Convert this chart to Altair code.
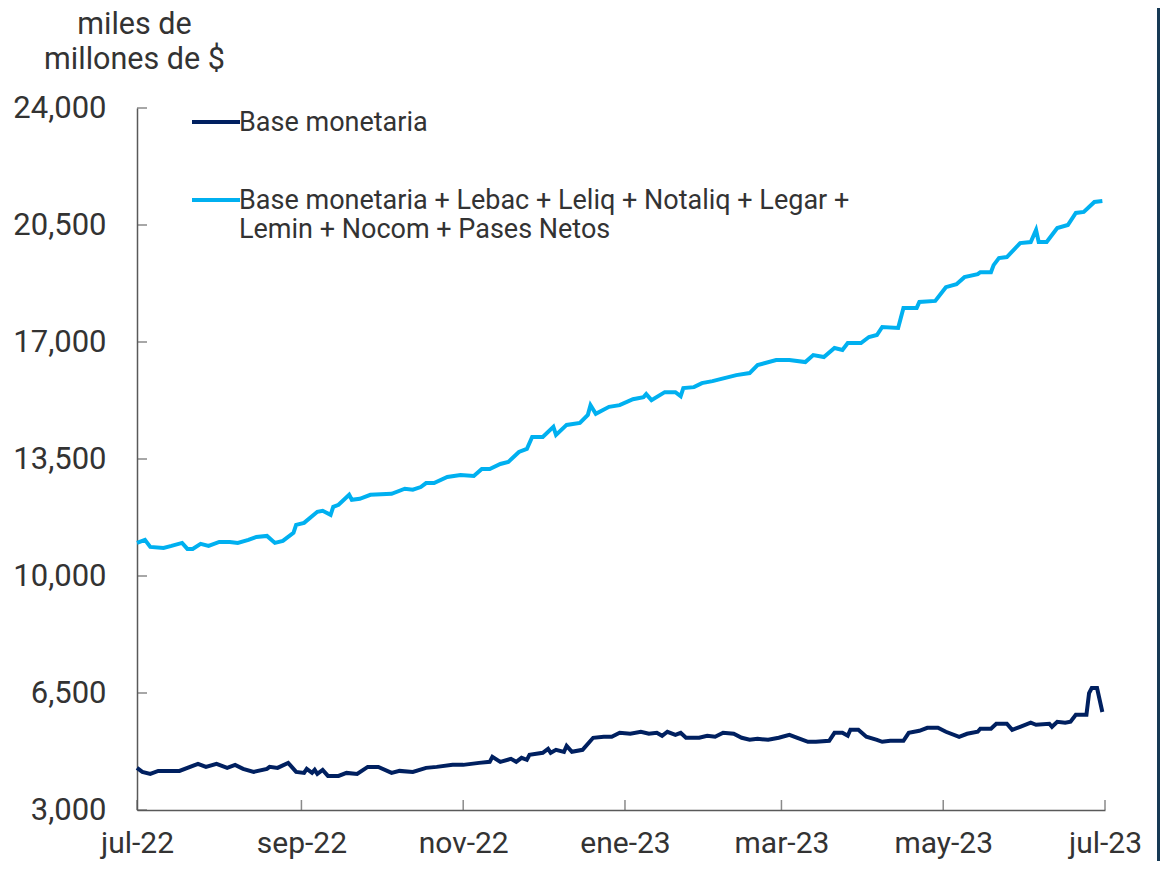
import altair as alt
import pandas as pd

# ---------------- data ----------------
amplio_dates = [
    "2022-07-01", "2022-07-04", "2022-07-06", "2022-07-11", "2022-07-14", "2022-07-18",
    "2022-07-20", "2022-07-22", "2022-07-25", "2022-07-28", "2022-08-01", "2022-08-05",
    "2022-08-08", "2022-08-12", "2022-08-15", "2022-08-19", "2022-08-22", "2022-08-25",
    "2022-08-29", "2022-08-30", "2022-09-02", "2022-09-07", "2022-09-09", "2022-09-12",
    "2022-09-13", "2022-09-15", "2022-09-19", "2022-09-20", "2022-09-23", "2022-09-27",
    "2022-10-05", "2022-10-10", "2022-10-13", "2022-10-16", "2022-10-18", "2022-10-21",
    "2022-10-26", "2022-10-31", "2022-11-05", "2022-11-08", "2022-11-11", "2022-11-15",
    "2022-11-18", "2022-11-22", "2022-11-25", "2022-11-27", "2022-12-01", "2022-12-05",
    "2022-12-06", "2022-12-10", "2022-12-15", "2022-12-18", "2022-12-19", "2022-12-21",
    "2022-12-26", "2022-12-30", "2023-01-04", "2023-01-08", "2023-01-09", "2023-01-11",
    "2023-01-16", "2023-01-20", "2023-01-22", "2023-01-23", "2023-01-27", "2023-01-30",
    "2023-02-03", "2023-02-06", "2023-02-12", "2023-02-17", "2023-02-20", "2023-02-27",
    "2023-03-04", "2023-03-10", "2023-03-13", "2023-03-17", "2023-03-21", "2023-03-24",
    "2023-03-26", "2023-03-31", "2023-04-03", "2023-04-06", "2023-04-08", "2023-04-14",
    "2023-04-16", "2023-04-21", "2023-04-22", "2023-04-28", "2023-05-02", "2023-05-06",
    "2023-05-09", "2023-05-14", "2023-05-15", "2023-05-19", "2023-05-20", "2023-05-22",
    "2023-05-25", "2023-05-30", "2023-06-03", "2023-06-05", "2023-06-06", "2023-06-09",
    "2023-06-13", "2023-06-17", "2023-06-20", "2023-06-23", "2023-06-27", "2023-06-30",
]
amplio_values = [
    10990, 11080, 10870, 10840, 10900, 10990,
    10810, 10810, 10960, 10900, 11020, 11020,
    10990, 11080, 11170, 11200, 10990, 11050,
    11290, 11530, 11590, 11920, 11950, 11830,
    12070, 12130, 12430, 12280, 12310, 12430,
    12460, 12610, 12580, 12660, 12780, 12780,
    12960, 13020, 12990, 13200, 13200, 13350,
    13410, 13710, 13800, 14160, 14160, 14460,
    14220, 14520, 14580, 14820, 15110, 14850,
    15060, 15110, 15290, 15350, 15440, 15260,
    15500, 15500, 15380, 15620, 15650, 15770,
    15830, 15890, 16010, 16070, 16310, 16460,
    16460, 16400, 16610, 16550, 16820, 16760,
    16970, 16970, 17150, 17210, 17450, 17420,
    18020, 18020, 18200, 18230, 18640, 18730,
    18940, 19030, 19090, 19090, 19300, 19510,
    19540, 19960, 19990, 20350, 19990, 19990,
    20410, 20500, 20860, 20890, 21190, 21220,
]

base_dates = [
    "2022-07-01", "2022-07-03", "2022-07-06", "2022-07-09", "2022-07-17", "2022-07-24",
    "2022-07-27", "2022-07-31", "2022-08-04", "2022-08-07", "2022-08-10", "2022-08-14",
    "2022-08-19", "2022-08-20", "2022-08-23", "2022-08-27", "2022-08-30", "2022-09-02",
    "2022-09-03", "2022-09-05", "2022-09-06", "2022-09-07", "2022-09-09", "2022-09-11",
    "2022-09-15", "2022-09-18", "2022-09-22", "2022-09-26", "2022-09-30", "2022-10-05",
    "2022-10-08", "2022-10-13", "2022-10-18", "2022-10-22", "2022-10-28", "2022-11-01",
    "2022-11-07", "2022-11-11", "2022-11-12", "2022-11-15", "2022-11-19", "2022-11-21",
    "2022-11-23", "2022-11-25", "2022-11-26", "2022-12-01", "2022-12-03", "2022-12-04",
    "2022-12-06", "2022-12-09", "2022-12-10", "2022-12-12", "2022-12-16", "2022-12-20",
    "2022-12-24", "2022-12-27", "2022-12-30", "2023-01-03", "2023-01-07", "2023-01-10",
    "2023-01-13", "2023-01-15", "2023-01-17", "2023-01-20", "2023-01-22", "2023-01-24",
    "2023-01-29", "2023-02-01", "2023-02-04", "2023-02-07", "2023-02-11", "2023-02-14",
    "2023-02-17", "2023-02-20", "2023-02-24", "2023-02-28", "2023-03-04", "2023-03-07",
    "2023-03-11", "2023-03-14", "2023-03-19", "2023-03-21", "2023-03-24", "2023-03-26",
    "2023-03-27", "2023-03-30", "2023-04-02", "2023-04-06", "2023-04-08", "2023-04-11",
    "2023-04-16", "2023-04-18", "2023-04-22", "2023-04-25", "2023-04-29", "2023-05-02",
    "2023-05-07", "2023-05-10", "2023-05-14", "2023-05-15", "2023-05-19", "2023-05-21",
    "2023-05-25", "2023-05-27", "2023-05-30", "2023-06-03", "2023-06-05", "2023-06-10",
    "2023-06-11", "2023-06-13", "2023-06-16", "2023-06-18", "2023-06-20", "2023-06-24",
    "2023-06-25", "2023-06-26", "2023-06-28", "2023-06-30",
]
base_values = [
    4260, 4140, 4080, 4170, 4170, 4380,
    4290, 4380, 4260, 4350, 4230, 4140,
    4230, 4290, 4260, 4410, 4140, 4110,
    4230, 4110, 4200, 4080, 4200, 4020,
    4020, 4110, 4080, 4290, 4290, 4110,
    4170, 4140, 4260, 4290, 4350, 4350,
    4410, 4440, 4590, 4440, 4530, 4440,
    4560, 4500, 4650, 4710, 4830, 4710,
    4800, 4740, 4920, 4740, 4800, 5160,
    5190, 5190, 5310, 5280, 5340, 5280,
    5310, 5220, 5340, 5250, 5310, 5160,
    5160, 5220, 5190, 5310, 5280, 5160,
    5100, 5130, 5100, 5160, 5250, 5160,
    5040, 5040, 5070, 5310, 5310, 5220,
    5400, 5400, 5190, 5100, 5040, 5070,
    5070, 5310, 5370, 5460, 5460, 5340,
    5190, 5280, 5340, 5430, 5430, 5580,
    5580, 5400, 5490, 5610, 5550, 5580,
    5490, 5640, 5610, 5640, 5850, 5850,
    6500, 6650, 6650, 5930,
]

series_names = [
    "Base monetaria",
    "Base monetaria + Lebac + Leliq + Notaliq + Legar + Lemin + Nocom + Pases Netos",
]
series_colors = ["#002060", "#00B0F0"]

y_ticks = [3000, 6500, 10000, 13500, 17000, 20500, 24000]
x_ticks = ["2022-07-01", "2022-09-01", "2022-11-01", "2023-01-01",
           "2023-03-01", "2023-05-01", "2023-07-01"]
month_names = ["ene", "feb", "mar", "abr", "may", "jun",
               "jul", "ago", "sep", "oct", "nov", "dic"]

# ---------------- tables ----------------
df = pd.concat([
    pd.DataFrame({"fecha": [d + "T00:00:00" for d in base_dates],
                  "valor": base_values, "serie": series_names[0]}),
    pd.DataFrame({"fecha": [d + "T00:00:00" for d in amplio_dates],
                  "valor": amplio_values, "serie": series_names[1]}),
])
yt = pd.DataFrame({"v": y_ticks})
xt = pd.DataFrame({"fecha": [d + "T00:00:00" for d in x_ticks]})

FONT = "Roboto"
TXT = "#333333"
AX = "#595959"
W, H = 968, 702

months_js = "[" + ",".join("'%s'" % m for m in month_names) + "]"
x_label_expr = months_js + "[month(datum.value)] + '-' + timeFormat(datum.value, '%y')"
x_domain = [x_ticks[0] + "T00:00:00", x_ticks[-1] + "T00:00:00"]

x_enc = alt.X(
    "fecha:T",
    scale=alt.Scale(domain=x_domain),
    axis=alt.Axis(
        values=[alt.DateTime(year=int(d[:4]), month=int(d[5:7]), date=int(d[8:10])) for d in x_ticks],
        labelExpr=x_label_expr,
        title=None, grid=False, ticks=False,
        domainColor=AX, domainWidth=1.5,
        labelFont=FONT, labelFontSize=30, labelColor=TXT, labelPadding=18,
        labelFlush=False, labelOverlap=False,
    ),
)
y_scale = alt.Scale(domain=[y_ticks[0], y_ticks[-1]], nice=False)
y_enc = alt.Y(
    "valor:Q",
    scale=y_scale,
    axis=alt.Axis(
        values=y_ticks, format=",.0f", grid=False, ticks=False,
        domainColor=AX, domainWidth=1.5,
        labelFont=FONT, labelFontSize=31, labelColor=TXT, labelPadding=31,
        title=["miles de", "millones de $"], titleAngle=0, titleAlign="center",
        titleBaseline="alphabetic", titleX=-3, titleY=-75,
        titleFont=FONT, titleFontSize=30.5, titleFontWeight="normal",
        titleColor=TXT, titleLineHeight=35,
    ),
)

label_expr = (
    "datum.label == '" + series_names[1] + "' ? "
    "['Base monetaria + Lebac + Leliq + Notaliq + Legar +', 'Lemin + Nocom + Pases Netos'] : datum.label"
)

lines = alt.Chart(df).mark_line(strokeWidth=4, interpolate="linear").encode(
    x=x_enc,
    y=y_enc,
    color=alt.Color(
        "serie:N",
        scale=alt.Scale(domain=series_names, range=series_colors),
        legend=alt.Legend(
            title=None, orient="none", legendX=50, legendY=-24,
            symbolType="M-0.875,0.5H1.125", symbolSize=2304, symbolStrokeWidth=4,
            labelOffset=0, labelFont=FONT, labelFontSize=27, labelColor=TXT,
            labelLimit=1000, labelExpr=label_expr, labelBaseline="top",
            rowPadding=26,
        ),
    ),
)

yticks = alt.Chart(yt).mark_tick(orient="horizontal", size=10, thickness=1.5, color=AX).encode(
    y=alt.Y("v:Q", scale=y_scale),
    x=alt.value(5),
)
xticks = alt.Chart(xt).mark_tick(orient="vertical", size=10, thickness=1.5, color=AX).encode(
    x=alt.X("fecha:T", scale=alt.Scale(domain=x_domain)),
    y=alt.value(H - 5),
)

strip = alt.Chart(yt).mark_rect(color="#173a55").encode(
    x=alt.value(1020), x2=alt.value(1023), y=alt.value(-100), y2=alt.value(753),
)

chart = alt.layer(lines, yticks, xticks, strip).properties(
    width=W, height=H,
    autosize=alt.AutoSizeParams(type="none"),
    padding={"left": 129, "top": 100, "right": 55, "bottom": 51},
).configure_view(stroke=None)

chart.save("out.html", embed_options={"renderer": "svg", "actions": False})
